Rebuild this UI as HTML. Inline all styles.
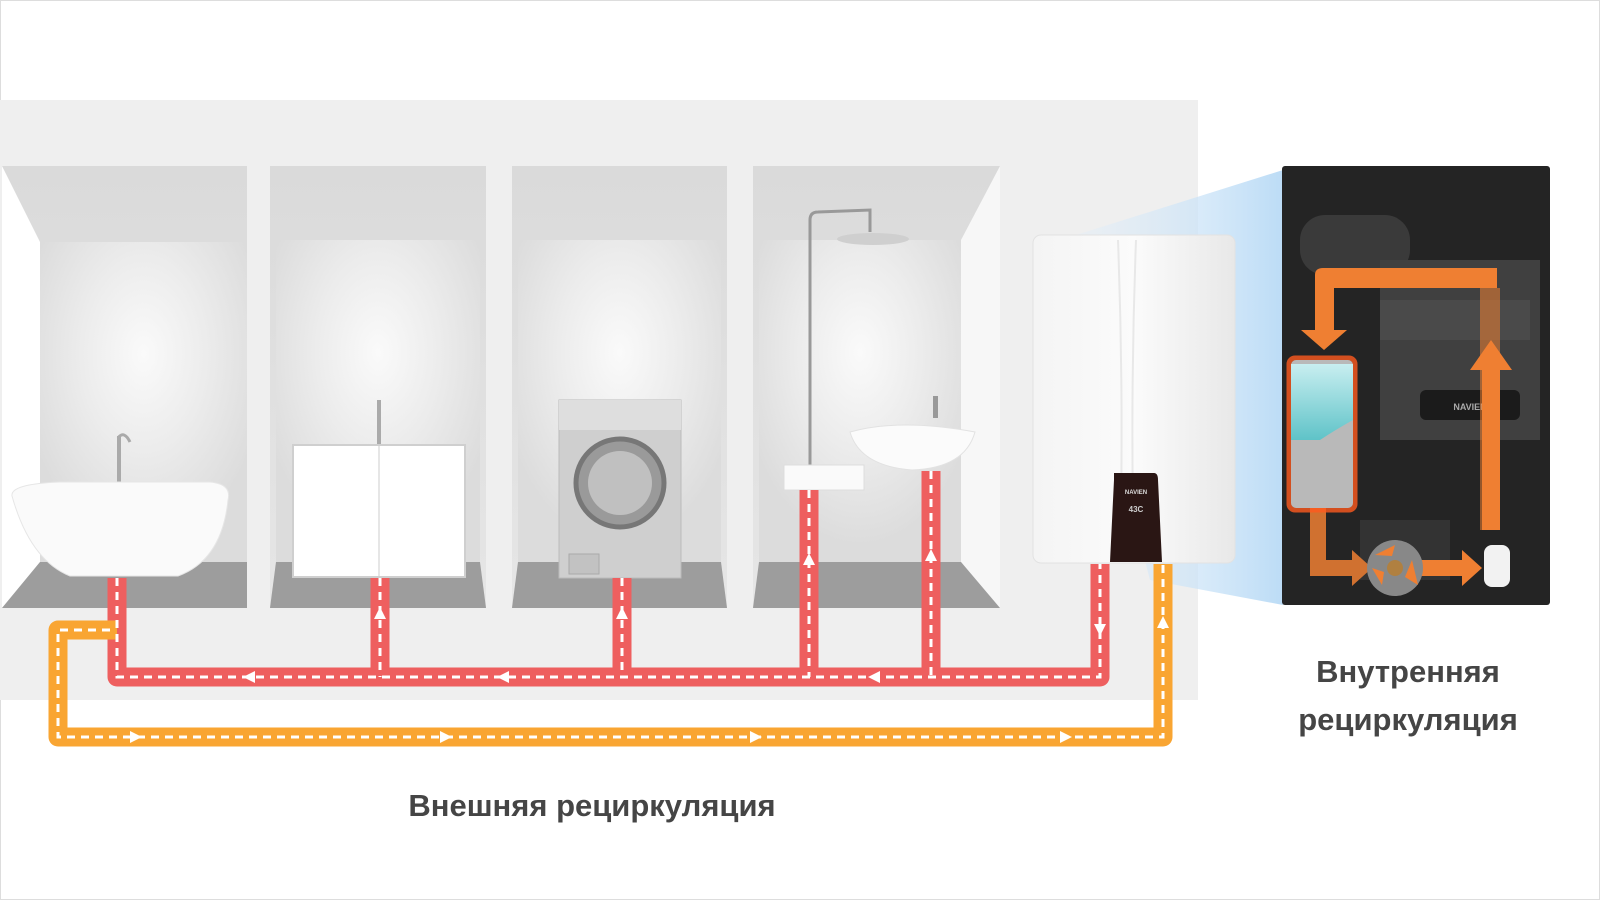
<!DOCTYPE html>
<html><head><meta charset="utf-8"><style>
html,body{margin:0;padding:0;background:#fff}
svg{display:block}
text{font-family:"Liberation Sans",sans-serif;font-weight:bold;fill:#454545}
</style></head><body>
<svg width="1600" height="900" viewBox="0 0 1600 900" xmlns="http://www.w3.org/2000/svg">
<defs>
<radialGradient id="lt" cx="0.5" cy="0.35" r="0.6">
<stop offset="0" stop-color="#fafafa"/><stop offset="0.5" stop-color="#ececec"/><stop offset="1" stop-color="#dcdcdc"/>
</radialGradient>
<linearGradient id="ceil" x1="0" y1="0" x2="0" y2="1"><stop offset="0" stop-color="#dadada"/><stop offset="1" stop-color="#e6e6e6"/></linearGradient>
<linearGradient id="beam" x1="0" y1="0" x2="1" y2="0"><stop offset="0" stop-color="#e3effa" stop-opacity="0.3"/><stop offset="1" stop-color="#bcdcf6"/></linearGradient>
<linearGradient id="heat" x1="0" y1="0" x2="1" y2="0"><stop offset="0" stop-color="#f4f4f4"/><stop offset="0.5" stop-color="#fbfbfb"/><stop offset="1" stop-color="#e8e8e8"/></linearGradient>
<linearGradient id="water" x1="0" y1="0" x2="0" y2="1"><stop offset="0" stop-color="#c8eef0"/><stop offset="1" stop-color="#5fc3c8"/></linearGradient>
</defs>
<rect x="0.5" y="0.5" width="1599" height="899" fill="#fff" stroke="#ddd"/>
<!-- back wall -->
<rect x="0" y="100" width="1198" height="600" fill="#efefef"/>
<!-- light beam -->
<polygon points="1060,240 1283,170 1283,605 1150,580" fill="url(#beam)"/>
<!-- niches -->
<g>
<rect x="2" y="166" width="245" height="442" fill="url(#ceil)"/>
<polygon points="2,166 40,242 40,562 2,608" fill="#fff"/>
<rect x="40" y="242" width="207" height="320" fill="url(#lt)"/>
<polygon points="40,562 247,562 247,608 2,608" fill="#9d9d9d"/>

<rect x="270" y="166" width="216" height="442" fill="url(#ceil)"/>
<rect x="276" y="240" width="204" height="322" fill="url(#lt)"/>
<polygon points="276,562 480,562 486,608 270,608" fill="#9d9d9d"/>

<rect x="512" y="166" width="215" height="442" fill="url(#ceil)"/>
<rect x="518" y="240" width="203" height="322" fill="url(#lt)"/>
<polygon points="518,562 721,562 727,608 512,608" fill="#9d9d9d"/>

<rect x="753" y="166" width="247" height="442" fill="url(#ceil)"/>
<rect x="759" y="240" width="202" height="322" fill="url(#lt)"/>
<polygon points="961,240 1000,166 1000,608 961,562" fill="#f7f7f7"/>
<polygon points="759,562 961,562 1000,608 753,608" fill="#9d9d9d"/>
</g>
<!-- bathtub -->
<rect x="117" y="436" width="4" height="50" fill="#aaa"/>
<path d="M118,438 q6,-8 12,4" stroke="#aaa" stroke-width="3" fill="none"/>
<path d="M12,496 Q10,484 60,482 L210,482 Q232,484 228,500 Q222,560 178,576 L70,576 Q30,560 12,496Z" fill="#fafafa" stroke="#e6e6e6"/>
<!-- cabinet -->
<rect x="377" y="400" width="4" height="46" fill="#aaa"/>
<rect x="293" y="445" width="172" height="132" fill="#fff" stroke="#cfcfcf" stroke-width="2"/>
<line x1="379" y1="446" x2="379" y2="577" stroke="#ccc"/>
<!-- washer -->
<rect x="559" y="400" width="122" height="178" fill="#cfcfcf" stroke="#bbb"/>
<rect x="559" y="400" width="122" height="30" fill="#dedede"/>
<circle cx="620" cy="483" r="44" fill="#9a9a9a" stroke="#777" stroke-width="5"/>
<circle cx="620" cy="483" r="32" fill="#c0c0c0"/>
<rect x="569" y="554" width="30" height="20" fill="#c2c2c2" stroke="#aaa"/>
<!-- shower -->
<path d="M810,470 V220 Q810,212 818,212 L870,210 V232" stroke="#999" stroke-width="3" fill="none"/>
<ellipse cx="873" cy="239" rx="36" ry="6" fill="#cfcfcf"/>
<rect x="784" y="465" width="80" height="25" fill="#fafafa" stroke="#ddd"/>
<!-- sink -->
<rect x="933" y="396" width="5" height="22" fill="#999"/>
<path d="M850,432 Q900,418 975,432 Q965,468 912,470 Q860,466 850,432Z" fill="#fbfbfb" stroke="#e2e2e2"/>
<!-- heater -->
<rect x="1033" y="235" width="202" height="328" rx="8" fill="url(#heat)" stroke="#e2e2e2"/>
<path d="M1118,240 Q1124,400 1120,560 M1136,240 Q1130,400 1134,560" stroke="#e8e8e8" stroke-width="2" fill="none"/>
<path d="M1114,473 L1154,473 Q1158,473 1158,480 L1162,562 L1110,562 L1114,480Z" fill="#2a1614"/>
<text x="1136" y="494" font-size="6" text-anchor="middle" style="fill:#ddd">NAVIEN</text>
<text x="1136" y="512" font-size="8" text-anchor="middle" style="fill:#ccc">43C</text>
<!-- dark panel -->
<rect x="1282" y="166" width="268" height="439" rx="3" fill="#242424"/>
<rect x="1300" y="215" width="110" height="60" rx="25" fill="#3a3a3a"/>
<rect x="1380" y="260" width="160" height="180" fill="#404040"/>
<rect x="1380" y="300" width="150" height="40" fill="#4a4a4a"/>
<rect x="1420" y="390" width="100" height="30" rx="6" fill="#1b1b1b"/>
<text x="1470" y="410" font-size="9" text-anchor="middle" style="fill:#aaa">NAVIEN</text>
<rect x="1360" y="520" width="90" height="60" fill="#333"/>
<!-- internal arrows -->
<g fill="#ef7f32">
<path d="M1315,330 V275 Q1315,268 1323,268 H1497 V288 H1334 V330 H1347 L1324,350 L1301,330Z"/>
<path d="M1480,288 H1500 V530 H1480Z" fill-opacity="0.55"/>
<path d="M1482,530 V370 H1470 L1491,340 L1512,370 H1500 V530Z"/>
<path d="M1310,505 H1326 V560 H1352 V550 L1372,568 L1352,586 V576 H1310Z" fill-opacity="0.85"/>
<path d="M1420,560 H1462 V550 L1482,568 L1462,586 V576 H1420Z"/>
</g>
<rect x="1289" y="358" width="66" height="152" rx="6" fill="none" stroke="#ff5a1e" stroke-width="5" opacity="0.8"/>
<rect x="1291" y="360" width="62" height="148" rx="5" fill="#b9b9b9"/>
<path d="M1291,364 H1353 V420 Q1335,430 1320,440 H1291Z" fill="url(#water)"/>
<circle cx="1395" cy="568" r="28" fill="#888"/>
<circle cx="1395" cy="568" r="8" fill="#b08040"/>
<path d="M1375,555 L1395,545 L1392,556Z M1412,560 L1418,585 L1405,577Z M1382,585 L1372,568 L1384,572Z" fill="#ef7f32"/>
<rect x="1484" y="545" width="26" height="42" rx="8" fill="#f2f2f2"/>
<!-- red pipes -->
<g fill="none" stroke="#ee5f5f" stroke-width="19" stroke-linejoin="round">
<path d="M117,578 V677 H1100 V564"/>
<path d="M380,578 V677 M622,578 V677 M809,490 V677 M931,471 V677"/>
</g>
<!-- orange pipe -->
<path d="M117,630 H58 V737 H1163 V564" fill="none" stroke="#f9a532" stroke-width="19" stroke-linejoin="round"/>
<g fill="none" stroke="#fff" stroke-width="3" stroke-dasharray="8,6">
<path d="M117,578 V677 H1100 V564"/>
<path d="M380,578 V677 M622,578 V677 M809,490 V677 M931,471 V677"/>
<path d="M110,630 H58 V737 H1163 V564"/>
</g>
<g fill="#fff">
<polygon points="380,607 374,619 386,619"/>
<polygon points="622,607 616,619 628,619"/>
<polygon points="809,553 803,565 815,565"/>
<polygon points="931,549 925,561 937,561"/>
<polygon points="1100,636 1094,624 1106,624"/>
<polygon points="1163,616 1157,628 1169,628"/>
<polygon points="243,677 255,671 255,683"/>
<polygon points="497,677 509,671 509,683"/>
<polygon points="868,677 880,671 880,683"/>
<polygon points="142,737 130,731 130,743"/>
<polygon points="452,737 440,731 440,743"/>
<polygon points="762,737 750,731 750,743"/>
<polygon points="1072,737 1060,731 1060,743"/>
</g>
<!-- labels -->
<text x="592" y="816" font-size="31" text-anchor="middle">Внешняя рециркуляция</text>
<text x="1408" y="682" font-size="31" text-anchor="middle">Внутренняя</text>
<text x="1408" y="730" font-size="31" text-anchor="middle">рециркуляция</text>
</svg>
</body></html>
